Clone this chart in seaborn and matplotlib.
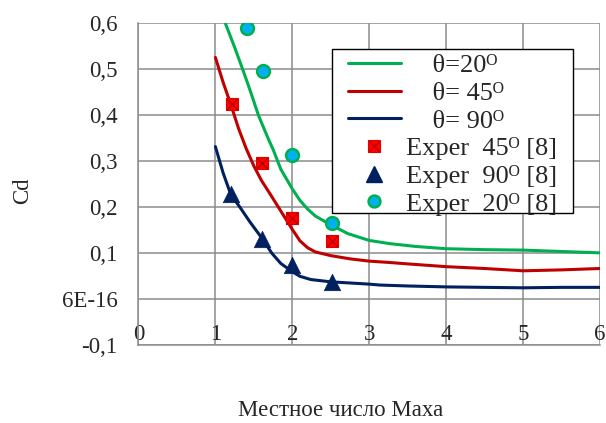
import matplotlib
matplotlib.use("Agg")
import matplotlib.pyplot as plt
import seaborn as sns
from matplotlib.lines import Line2D
from matplotlib.patches import Rectangle
from matplotlib.legend_handler import HandlerTuple

# ---------------- data ----------------
mach_20 = [1.0, 1.13, 1.25, 1.355, 1.45, 1.56, 1.69, 1.75, 1.85, 2.0, 2.1, 2.2, 2.3, 2.5, 2.72, 3.0, 3.27, 3.6, 4.0, 4.5, 5.0, 5.5, 6.0]
cd_20 = [0.66, 0.60, 0.548, 0.50, 0.455, 0.40, 0.348, 0.326, 0.283, 0.24, 0.215, 0.196, 0.181, 0.162, 0.143, 0.128, 0.121, 0.115, 0.110, 0.108, 0.107, 0.104, 0.101]

mach_45 = [1.0, 1.1, 1.2, 1.3, 1.4, 1.5, 1.6, 1.7, 1.82, 2.0, 2.1, 2.2, 2.3, 2.5, 2.75, 3.0, 3.27, 3.5, 4.0, 4.5, 5.0, 5.5, 6.0]
cd_45 = [0.526, 0.472, 0.424, 0.372, 0.328, 0.29, 0.258, 0.232, 0.20, 0.152, 0.127, 0.112, 0.103, 0.095, 0.088, 0.083, 0.080, 0.077, 0.071, 0.067, 0.062, 0.064, 0.067]

mach_90 = [1.0, 1.1, 1.2, 1.32, 1.45, 1.6, 1.735, 1.85, 2.0, 2.1, 2.24, 2.5, 3.0, 3.14, 3.5, 4.0, 4.5, 5.0, 5.5, 6.0]
cd_90 = [0.332, 0.275, 0.228, 0.20, 0.168, 0.134, 0.10, 0.078, 0.06, 0.05, 0.043, 0.038, 0.033, 0.031, 0.029, 0.027, 0.026, 0.025, 0.026, 0.026]

exp_mach_20 = [1.41, 1.62, 2.0, 2.52]
exp_cd_20 = [0.589, 0.496, 0.313, 0.165]
exp_mach_45 = [1.21, 1.61, 2.0, 2.52]
exp_cd_45 = [0.425, 0.296, 0.176, 0.126]
exp_mach_90 = [1.2, 1.61, 2.0, 2.52]
exp_cd_90 = [0.23, 0.132, 0.074, 0.037]

x_ticks = [0, 1, 2, 3, 4, 5, 6]
x_tick_labels = ["0", "1", "2", "3", "4", "5", "6"]
y_ticks = [-0.1, 0.0, 0.1, 0.2, 0.3, 0.4, 0.5, 0.6]
y_tick_labels = ["-0,1", "6E-16", "0,1", "0,2", "0,3", "0,4", "0,5", "0,6"]

line_labels = ["    θ=20ᴼ", "    θ= 45ᴼ", "    θ= 90ᴼ"]
exp_labels = ["Exper  45ᴼ [8]", "Exper  90ᴼ [8]", "Exper  20ᴼ [8]"]
x_label = "Местное число Маха"
y_label = "Cd"

# ---------------- style ----------------
sns.set_style("white")
plt.rcParams["font.family"] = ["Liberation Serif", "DejaVu Serif", "DejaVu Sans"]

GREEN = "#00B050"
RED = "#C00000"
BLUE = "#002060"
GRID = "#8c8c8c"
FS_TICK = 16.5
FS_LAB = 16.5
FS_LEG = 19

fig = plt.figure(figsize=(6.06, 4.23), dpi=100)
ax = fig.add_axes([0.2285, 0.1837, 0.7616, 0.761])

lw = 2.2
sns.lineplot(x=mach_20, y=cd_20, ax=ax, color=GREEN, lw=lw, sort=False, estimator=None)
sns.lineplot(x=mach_45, y=cd_45, ax=ax, color=RED, lw=lw, sort=False, estimator=None)
sns.lineplot(x=mach_90, y=cd_90, ax=ax, color=BLUE, lw=lw, sort=False, estimator=None)

sns.scatterplot(x=exp_mach_45, y=exp_cd_45, ax=ax, marker="s", s=80, color="#FF0000",
                edgecolor="#E00000", linewidth=0.8, zorder=5)
sns.scatterplot(x=exp_mach_45, y=exp_cd_45, ax=ax, marker="x", s=60, color="#B00000",
                linewidth=0.9, zorder=6)
sns.scatterplot(x=exp_mach_90, y=exp_cd_90, ax=ax, marker="^", s=140, color=BLUE,
                edgecolor=BLUE, linewidth=0.5, zorder=5)
sns.scatterplot(x=exp_mach_20, y=exp_cd_20, ax=ax, marker="o", s=85, color="#00B0F0",
                edgecolor=GREEN, linewidth=1.8, zorder=5)

ax.set_xlim(0, 6)
ax.set_ylim(-0.1, 0.6)
ax.set_xticks(x_ticks)
ax.set_xticklabels(x_tick_labels, fontsize=FS_TICK)
ax.set_yticks(y_ticks)
ax.set_yticklabels(y_tick_labels, fontsize=FS_TICK)
ax.grid(True, color=GRID, lw=1.1)
ax.set_axisbelow(True)
for side in ["top", "right"]:
    ax.spines[side].set_visible(False)
for side in ["left", "bottom"]:
    ax.spines[side].set_color(GRID)
    ax.spines[side].set_linewidth(1.1)
ax.tick_params(axis="y", length=6, width=1.1, color=GRID, direction="out", pad=9)
ax.tick_params(axis="x", length=0, pad=-15)
ax.set_xlabel("")
ax.set_ylabel("")

fig.text(341 / 606, 1 - 410 / 423, x_label, fontsize=FS_LAB, ha="center", va="center")
fig.text(23 / 606, 1 - 191 / 423, y_label, fontsize=FS_LAB, ha="center", va="center", rotation=90)

# ---------------- legend ----------------
box = Rectangle((0.419, 0.411), 0.5225, 0.509, transform=ax.transAxes, facecolor="white",
                edgecolor="black", lw=1.0, zorder=8)
ax.add_patch(box)

h_g = Line2D([], [], color=GREEN, lw=lw)
h_r = Line2D([], [], color=RED, lw=lw)
h_b = Line2D([], [], color=BLUE, lw=lw)
h_sq = (Line2D([], [], ls="", marker="s", ms=8, color="#FF0000", mec="#E00000", mew=0.8),
        Line2D([], [], ls="", marker="x", ms=6.5, color="#B00000", mew=0.9))
h_tri = Line2D([], [], ls="", marker="^", ms=11, color=BLUE)
h_c = Line2D([], [], ls="", marker="o", ms=8.5, color="#00B0F0", mec=GREEN, mew=1.8)

leg = ax.legend([h_g, h_r, h_b, h_sq, h_tri, h_c], line_labels + exp_labels,
                handler_map={tuple: HandlerTuple(ndivide=1, pad=0)},
                loc="upper left", bbox_to_anchor=(0.454, 0.906), fontsize=FS_LEG,
                frameon=False, borderpad=0, labelspacing=0.16, handlelength=2.0,
                handletextpad=0.2, borderaxespad=0)
leg.set_zorder(9)

fig.savefig("out.png", dpi=100)
